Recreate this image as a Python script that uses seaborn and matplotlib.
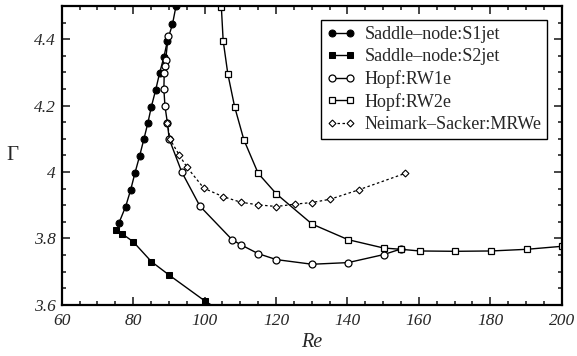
import matplotlib
matplotlib.use("Agg")
import matplotlib.pyplot as plt
import seaborn as sns
import numpy as np
from matplotlib.ticker import MultipleLocator, FuncFormatter

# ---- data ----
s1_re = [92.0, 91.0, 89.6, 88.6, 87.4, 86.3, 85.1, 84.1, 83.0, 81.8, 80.5, 79.3, 77.9, 76.0]
s1_g  = [4.50, 4.445, 4.396, 4.346, 4.298, 4.247, 4.197, 4.147, 4.099, 4.048, 3.997, 3.946, 3.896, 3.846]

s2_re = [75.1, 77.0, 80.0, 85.1, 90.0, 100.0, 105.0]
s2_g  = [3.825, 3.813, 3.790, 3.730, 3.690, 3.612, 3.578]

rw1_re = [89.8, 89.1, 88.9, 88.7, 88.6, 88.9, 89.6, 90.1, 93.6, 98.7, 107.7, 110.1, 115.0, 120.1, 130.1, 140.2, 150.1, 155.0]
rw1_g  = [4.409, 4.337, 4.319, 4.299, 4.249, 4.199, 4.147, 4.099, 4.000, 3.897, 3.796, 3.781, 3.754, 3.736, 3.722, 3.727, 3.751, 3.768]

rw2_re = [104.7, 105.2, 106.5, 108.4, 111.0, 115.0, 120.1, 130.1, 140.2, 150.1, 155.0, 160.2, 170.2, 180.2, 190.2, 200.0]
rw2_g  = [4.496, 4.396, 4.296, 4.197, 4.097, 3.996, 3.934, 3.843, 3.796, 3.771, 3.767, 3.762, 3.761, 3.762, 3.767, 3.776]

ns_re = [89.6, 90.3, 92.9, 95.1, 99.8, 105.1, 110.1, 115.0, 120.1, 125.2, 130.1, 135.2, 143.1, 156.2]
ns_g  = [4.147, 4.099, 4.051, 4.014, 3.951, 3.926, 3.909, 3.901, 3.896, 3.903, 3.908, 3.918, 3.946, 3.996]

labels = ["Saddle\u2013node:S1jet", "Saddle\u2013node:S2jet", "Hopf:RW1e", "Hopf:RW2e",
          "Neimark\u2013Sacker:MRWe"]

x_ticks = [60, 80, 100, 120, 140, 160, 180, 200]
y_ticks = [3.6, 3.8, 4.0, 4.2, 4.4]

# ---- style ----
sns.set_style("ticks")
plt.rcParams['font.family'] = ['Liberation Serif', 'DejaVu Serif']
plt.rcParams['mathtext.fontset'] = 'stix'

fig = plt.figure(figsize=(5.77, 3.56), dpi=100)
ax = fig.add_axes([0.107, 0.144, 0.8665, 0.839])

common = dict(sort=False, estimator=None, color="black", ax=ax, clip_on=True)

sns.lineplot(x=s1_re, y=s1_g, marker="o", markersize=5, markerfacecolor="black",
             markeredgecolor="black", linewidth=1.0, label=labels[0], **common)
sns.lineplot(x=s2_re, y=s2_g, marker="s", markersize=4.5, markerfacecolor="black",
             markeredgecolor="black", linewidth=1.0, label=labels[1], **common)
sns.lineplot(x=rw1_re, y=rw1_g, marker="o", markersize=5, markerfacecolor="white",
             markeredgecolor="black", markeredgewidth=0.9, linewidth=1.0, label=labels[2], **common)
sns.lineplot(x=rw2_re, y=rw2_g, marker="s", markersize=4.5, markerfacecolor="white",
             markeredgecolor="black", markeredgewidth=0.9, linewidth=1.0, label=labels[3], **common)
sns.lineplot(x=ns_re, y=ns_g, marker="D", markersize=3.5, markerfacecolor="white",
             markeredgecolor="black", markeredgewidth=0.8, linewidth=0.9,
             linestyle=(0, (2, 2)), label=labels[4], **common)

ax.set_xlim(60, 200)
ax.set_ylim(3.6, 4.5)
ax.set_xticks(x_ticks)
ax.set_yticks(y_ticks)
ax.xaxis.set_minor_locator(MultipleLocator(5))
ax.yaxis.set_minor_locator(MultipleLocator(0.05))
ax.yaxis.set_major_formatter(FuncFormatter(lambda v, p: f"{v:g}"))

ax.tick_params(which="both", direction="in", top=True, right=True, width=1.2)
ax.tick_params(which="major", length=5.5, labelsize=12.5, pad=4)
ax.tick_params(axis="x", which="major", pad=6)
ax.tick_params(which="minor", length=3)
for lab in ax.get_xticklabels() + ax.get_yticklabels():
    lab.set_fontstyle("italic")
for sp in ax.spines.values():
    sp.set_linewidth(1.6)
    sp.set_color("black")

ax.set_xlabel("Re", fontsize=14.5, fontstyle="italic", labelpad=3)
ax.set_ylabel("\u0393", fontsize=15, rotation=0, labelpad=16, va="center")

leg = ax.legend(loc="upper right", bbox_to_anchor=(0.971, 0.953), numpoints=2,
                fontsize=13, frameon=True, fancybox=False, edgecolor="black",
                handlelength=1.6, handletextpad=0.5, labelspacing=0.28,
                borderpad=0.32, borderaxespad=0.0)
leg.get_frame().set_linewidth(1.0)
leg.get_frame().set_alpha(1)

fig.savefig("out.png", dpi=100)
